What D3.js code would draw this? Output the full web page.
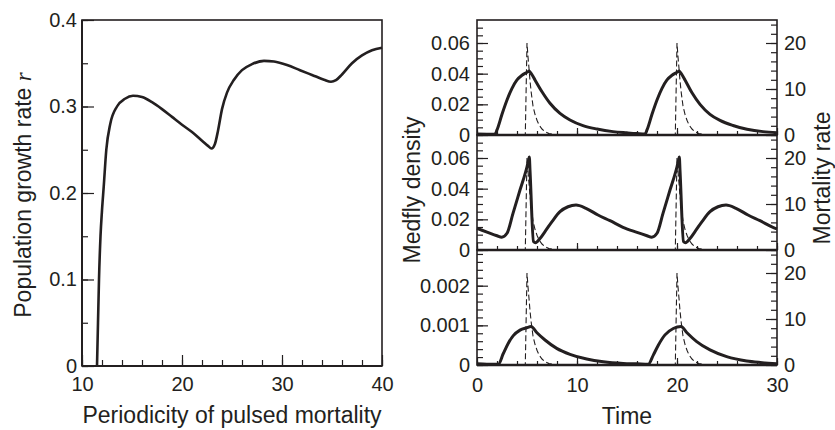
<!DOCTYPE html>
<html><head><meta charset="utf-8">
<script src="https://cdn.jsdelivr.net/npm/d3@7/dist/d3.min.js"></script>
<style>
body{margin:0;background:#fff}
text{font-family:"Liberation Sans",Arial,Helvetica,sans-serif;fill:#231f20}
</style>
</head><body>
<svg id="c" width="835" height="430"></svg>
<script>
// ---------- DATA ----------
// Left panel: growth rate r vs periodicity of pulsed mortality
const periodicity = [11.5,11.6,11.7,11.85,12.0,12.17,12.43,12.83,13.5,14.3,15.1,16,17,18,19,20,21,22,22.6,22.95,23.3,23.6,24.0,24.5,25.2,26.0,27.0,28.2,29.2,30.5,31.8,33.0,34.2,34.9,35.4,36.0,37.0,38.0,39.0,40.0];
const growthRate  = [0,0.05,0.1,0.15,0.18,0.207,0.25,0.28,0.3,0.309,0.3125,0.311,0.305,0.297,0.288,0.279,0.2705,0.2605,0.2545,0.2515,0.257,0.272,0.297,0.316,0.331,0.342,0.349,0.3528,0.352,0.348,0.342,0.3365,0.331,0.3286,0.3305,0.337,0.35,0.359,0.365,0.368];

// Right panels: time series
const topTime  = [0,1,1.8,2.0,2.5,3.0,3.5,4.0,4.5,5.0,5.12,5.2,5.3,5.5,5.8,6.5,7.3,8.3,9.3,10.6,12.0,13.6,15.0,16.0,16.8,17.0,17.5,18.0,18.5,19.0,19.5,20.0,20.12,20.2,20.3,20.5,20.8,21.5,22.3,23.3,24.3,25.6,27.0,28.6,30];
const topDens  = [0.0006,0.0005,0.0006,0.0033,0.0135,0.0228,0.0304,0.0359,0.039,0.0409,0.0414,0.0417,0.0411,0.0393,0.0359,0.0282,0.0207,0.0141,0.0098,0.0061,0.0039,0.0022,0.0014,0.0009,0.0006,0.0033,0.0135,0.0228,0.0304,0.0359,0.039,0.0409,0.0414,0.0417,0.0411,0.0393,0.0359,0.0275,0.0200,0.0135,0.0095,0.0062,0.0038,0.0022,0.0015];

const midTime  = [0,1.0,2.0,2.47,3.0,3.6,4.3,5.0,5.15,5.23,5.3,5.65,5.85,6.3,6.8,7.5,8.3,9.1,9.9,10.9,12.1,13.3,14.6,16.0,17.0,17.47,18.0,18.6,19.3,20.0,20.15,20.23,20.3,20.65,20.85,21.3,21.8,22.5,23.3,24.1,24.9,25.9,27.1,28.3,29.6,30];
const midDens  = [0.0141,0.0117,0.0093,0.0083,0.0109,0.0239,0.0391,0.0543,0.0585,0.0607,0.052,0.0055,0.0048,0.0075,0.012,0.0185,0.025,0.0282,0.0293,0.0272,0.0228,0.0191,0.0148,0.0115,0.0093,0.0083,0.0109,0.0239,0.0391,0.0543,0.0585,0.0607,0.052,0.0055,0.0048,0.0075,0.012,0.0185,0.025,0.0282,0.0293,0.0272,0.0228,0.0191,0.0148,0.0138];

const botTime  = [0,1.0,2.13,2.63,3.13,3.63,4.3,4.97,5.4,5.97,6.8,7.97,9.3,10.97,12.63,14.63,16.0,17.13,17.63,18.13,18.8,19.63,20.4,20.97,21.97,23.3,24.97,26.97,28.5,30];
const botDens  = [0.00003,0.00002,0.00002,0.00029,0.00055,0.00074,0.00088,0.00094,0.00097,0.00082,0.00063,0.00042,0.00027,0.00015,0.00008,0.00004,0.00003,0.00002,0.00025,0.0005,0.00076,0.00092,0.00097,0.00082,0.00059,0.00038,0.00021,0.0001,0.00006,0.00003];

// Pulsed mortality rate (dashed), same in all three panels
const mortTime = [0,4.83,5.0,5.1,5.2,5.3,5.42,5.6,5.8,6.0,6.2,6.5,6.8,7.2,7.8,8.5,19.83,20.0,20.1,20.2,20.3,20.42,20.6,20.8,21.0,21.2,21.5,21.8,22.2,22.8,23.5,30];
const mortRate = [0,0,20,17.0,14.5,11.8,9.3,6.3,4.5,3.2,2.2,1.3,0.7,0.3,0.1,0,0,20,17.0,14.5,11.8,9.3,6.3,4.5,3.2,2.2,1.3,0.7,0.3,0.1,0,0];

// Tick values
const leftXTicks = [10,20,30,40];
const leftYTicks = [0,0.1,0.2,0.3,0.4];
const timeTicks  = [0,10,20,30];
const densTicksBig = [0,0.02,0.04,0.06];
const densTicksSmall = [0,0.001,0.002];
const mortTicks = [0,10,20];

// ---------- DRAW ----------
const ink = "#231f20";
const svg = d3.select("#c");

function styleAxis(g){
  g.select(".domain").remove();
  g.selectAll("line").attr("stroke",ink).attr("stroke-width",1.2);
  g.selectAll("text").style("font-size","20px").attr("fill",ink);
}

// Left panel
const L = {x0:82,x1:382,y0:20,y1:366};
const xL = d3.scaleLinear().domain([10,40]).range([L.x0,L.x1]);
const yL = d3.scaleLinear().domain([0,0.4]).range([L.y1,L.y0]);
const gL = svg.append("g");

gL.append("g").attr("transform",`translate(0,${L.y1})`)
  .call(d3.axisBottom(xL).tickValues(d3.range(10,41,2)).tickSize(-6).tickFormat(""))
  .call(styleAxis);
gL.append("g").attr("transform",`translate(0,${L.y1})`)
  .call(d3.axisBottom(xL).tickValues(leftXTicks).tickSize(-11).tickPadding(11).tickFormat(d3.format("d")))
  .call(styleAxis);
gL.append("g").attr("transform",`translate(${L.x0},0)`)
  .call(d3.axisLeft(yL).tickValues(d3.range(0,0.401,0.05)).tickSize(-6).tickFormat(""))
  .call(styleAxis);
gL.append("g").attr("transform",`translate(${L.x0},0)`)
  .call(d3.axisLeft(yL).tickValues(leftYTicks).tickSize(-12).tickPadding(5).tickFormat(d=>d===0?"0":d3.format(".1f")(d)))
  .call(styleAxis);

gL.append("path").datum(periodicity.map((p,i)=>[p,growthRate[i]]))
  .attr("fill","none").attr("stroke",ink).attr("stroke-width",2.6)
  .attr("d",d3.line().x(d=>xL(d[0])).y(d=>yL(d[1])).curve(d3.curveMonotoneX));

gL.append("rect").attr("x",L.x0).attr("y",L.y0).attr("width",L.x1-L.x0).attr("height",L.y1-L.y0)
  .attr("fill","none").attr("stroke",ink).attr("stroke-width",1.6);
gL.append("line").attr("x1",L.x0).attr("x2",L.x1).attr("y1",L.y1).attr("y2",L.y1).attr("stroke",ink).attr("stroke-width",2);
gL.append("line").attr("x1",L.x0).attr("x2",L.x0).attr("y1",L.y0).attr("y2",L.y1).attr("stroke",ink).attr("stroke-width",2);

gL.append("text").attr("x",(L.x0+L.x1)/2).attr("y",423).attr("text-anchor","middle")
  .style("font-size","23px").text("Periodicity of pulsed mortality");
const yt = gL.append("text").attr("transform","translate(31,195) rotate(-90)").attr("text-anchor","middle")
  .style("font-size","23px");
yt.append("tspan").text("Population growth rate ");
yt.append("tspan").style("font-family","'Liberation Serif','Times New Roman',serif").style("font-style","italic").text("r");

// Right panels
const R = {x0:477,x1:777};
const xR = d3.scaleLinear().domain([0,30]).range([R.x0,R.x1]);
const panels = [
  {top:20,  bot:135, dmax:0.075,  t:topTime, v:topDens, ticks:densTicksBig,   minor:d3.range(0,0.0751,0.005),   fmt:d=>d===0?"0":d3.format(".2f")(d), last:false},
  {top:135, bot:250, dmax:0.075,  t:midTime, v:midDens, ticks:densTicksBig,   minor:d3.range(0,0.0751,0.005),   fmt:d=>d===0?"0":d3.format(".2f")(d), last:false},
  {top:250, bot:365, dmax:0.0029, t:botTime, v:botDens, ticks:densTicksSmall, minor:d3.range(0,0.00291,0.0002), fmt:d=>d===0?"0":d3.format(".3f")(d), last:true}
];

panels.forEach(p=>{
  const g = svg.append("g");
  const yD = d3.scaleLinear().domain([0,p.dmax]).range([p.bot,p.top]);
  const yM = d3.scaleLinear().domain([0,25]).range([p.bot,p.top]);

  g.append("g").attr("transform",`translate(0,${p.bot})`)
    .call(d3.axisBottom(xR).tickValues(d3.range(0,31,2)).tickSize(-4).tickFormat(""))
    .call(styleAxis);
  g.append("g").attr("transform",`translate(0,${p.bot})`)
    .call(d3.axisBottom(xR).tickValues(timeTicks).tickSize(-7).tickPadding(13).tickFormat(p.last?d3.format("d"):""))
    .call(styleAxis);
  g.append("g").attr("transform",`translate(${R.x0},0)`)
    .call(d3.axisLeft(yD).tickValues(p.minor.filter(v=>yD(v)>p.top+1)).tickSize(-6).tickFormat(""))
    .call(styleAxis);
  g.append("g").attr("transform",`translate(${R.x0},0)`)
    .call(d3.axisLeft(yD).tickValues(p.ticks).tickSize(-11).tickPadding(7).tickFormat(p.fmt))
    .call(styleAxis);
  g.append("g").attr("transform",`translate(${R.x1},0)`)
    .call(d3.axisRight(yM).tickValues(d3.range(0,25,2)).tickSize(-6).tickFormat(""))
    .call(styleAxis);
  g.append("g").attr("transform",`translate(${R.x1},0)`)
    .call(d3.axisRight(yM).tickValues(mortTicks).tickSize(-11).tickPadding(7).tickFormat(d3.format("d")))
    .call(styleAxis);

  g.append("path").datum(mortTime.map((t,i)=>[t,mortRate[i]]))
    .attr("fill","none").attr("stroke",ink).attr("stroke-width",1.1).attr("stroke-dasharray","6,3")
    .attr("d",d3.line().x(d=>xR(d[0])).y(d=>yM(d[1])));

  g.append("path").datum(p.t.map((t,i)=>[t,p.v[i]]))
    .attr("fill","none").attr("stroke",ink).attr("stroke-width",3)
    .attr("d",d3.line().x(d=>xR(d[0])).y(d=>yD(d[1])).curve(d3.curveMonotoneX));

  g.append("rect").attr("x",R.x0).attr("y",p.top).attr("width",R.x1-R.x0).attr("height",p.bot-p.top)
    .attr("fill","none").attr("stroke",ink).attr("stroke-width",1.6);
  g.append("line").attr("x1",R.x0).attr("x2",R.x1).attr("y1",p.bot).attr("y2",p.bot)
    .attr("stroke",ink).attr("stroke-width",2.4);
});

svg.append("text").attr("x",(R.x0+R.x1)/2).attr("y",424).attr("text-anchor","middle")
  .style("font-size","23px").text("Time");
svg.append("text").attr("transform","translate(420,190) rotate(-90)").attr("text-anchor","middle")
  .style("font-size","23px").text("Medfly density");
svg.append("text").attr("transform","translate(830,178) rotate(-90)").attr("text-anchor","middle")
  .style("font-size","23px").text("Mortality rate");
</script>
</body></html>
